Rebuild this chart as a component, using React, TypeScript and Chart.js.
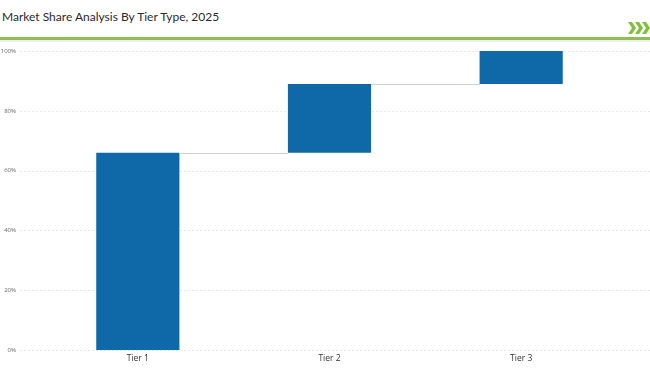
import React, { useEffect, useRef } from "react";
import { Chart, registerables } from "chart.js";

Chart.register(...registerables);

const categories = ["Tier 1", "Tier 2", "Tier 3"];
const starts = [0, 66, 89];
const ends = [66, 89, 100];
const yTicks = [0, 20, 40, 60, 80, 100];
const title = "Market Share Analysis By Tier Type, 2025";

const connectorPlugin = {
  id: "connectors",
  beforeDatasetsDraw(chart: any) {
    const { ctx } = chart;
    const y = chart.scales.y;
    ctx.save();
    ctx.strokeStyle = "#e6e6e6";
    ctx.lineWidth = 1;
    ctx.setLineDash([2, 2]);
    yTicks.forEach((t) => {
      const py = Math.round(y.getPixelForValue(t)) + 0.5;
      ctx.beginPath();
      ctx.moveTo(20, py);
      ctx.lineTo(chart.width, py);
      ctx.stroke();
    });
    ctx.restore();
  },
  afterDatasetsDraw(chart: any) {
    const { ctx } = chart;
    const meta = chart.getDatasetMeta(0);
    const y = chart.scales.y;
    ctx.save();
    ctx.strokeStyle = "#cfcfcf";
    ctx.lineWidth = 1;
    for (let i = 0; i < meta.data.length - 1; i++) {
      const a = meta.data[i] as any;
      const b = meta.data[i + 1] as any;
      const py = Math.round(y.getPixelForValue(ends[i])) + 0.5;
      ctx.beginPath();
      ctx.moveTo(a.x + a.width / 2, py);
      ctx.lineTo(b.x - b.width / 2, py);
      ctx.stroke();
    }
    ctx.restore();
  },
};

export default function App() {
  const ref = useRef<HTMLCanvasElement>(null);
  useEffect(() => {
    document.body.style.margin = "0";
    const chart = new Chart(ref.current!, {
      type: "bar",
      data: {
        labels: categories,
        datasets: [
          {
            data: categories.map((_, i) => [starts[i], ends[i]]) as any,
            backgroundColor: "#0f69a8",
            borderWidth: 0,
            barPercentage: 0.434,
            categoryPercentage: 1,
          },
        ],
      },
      options: {
        animation: false,
        responsive: false,
        maintainAspectRatio: false,
        layout: { padding: { left: 0, right: 33, top: 9, bottom: 0 } },
        plugins: { legend: { display: false }, tooltip: { enabled: false } },
        scales: {
          x: {
            grid: { display: false, drawTicks: false },
            border: { display: false },
            afterFit: (s: any) => {
              s.height = 19;
              s.paddingLeft = 0;
              s.paddingRight = 0;
            },
            ticks: {
              color: "#333",
              font: { family: "Open Sans", size: 8.5 },
              padding: 3,
            },
          },
          y: {
            min: 0,
            max: 100,
            afterBuildTicks: (s: any) => {
              s.ticks = yTicks.map((v) => ({ value: v }));
            },
            afterFit: (s: any) => {
              s.width = 42;
              s.paddingTop = 0;
              s.paddingBottom = 0;
            },
            grid: { display: false, drawTicks: false },
            border: { display: false },
            ticks: {
              color: "#666",
              font: { family: "Open Sans", size: 6 },
              padding: 26,
              callback: (v: any) => v + "%",
            },
          },
        },
      },
      plugins: [connectorPlugin],
    });
    return () => chart.destroy();
  }, []);

  return (
    <div style={{ position: "absolute", left: 0, top: 0, width: 650, height: 369, background: "#fff", overflow: "hidden" }}>
      <div
        style={{
          position: "absolute",
          left: 2,
          top: 9,
          fontFamily: "Lato",
          fontSize: 12,
          color: "#2a2a2a",
          whiteSpace: "nowrap",
        }}
      >
        {title}
      </div>
      <svg style={{ position: "absolute", left: 628, top: 22 }} width={22} height={12}>
        {[0, 7, 14].map((dx) => (
          <polygon
            key={dx}
            points={`${dx},0 ${dx + 4},0 ${dx + 8},6 ${dx + 4},12 ${dx},12 ${dx + 4},6`}
            fill="#7fbf3a"
          />
        ))}
      </svg>
      <div style={{ position: "absolute", left: 0, top: 37, width: 650, height: 3, background: "#8cc152" }} />
      <div style={{ position: "absolute", left: 0, top: 40, width: 650, height: 2, background: "#eef3e6" }} />
      <canvas ref={ref} width={650} height={327} style={{ position: "absolute", left: 0, top: 42, width: 650, height: 327 }} />
    </div>
  );
}
